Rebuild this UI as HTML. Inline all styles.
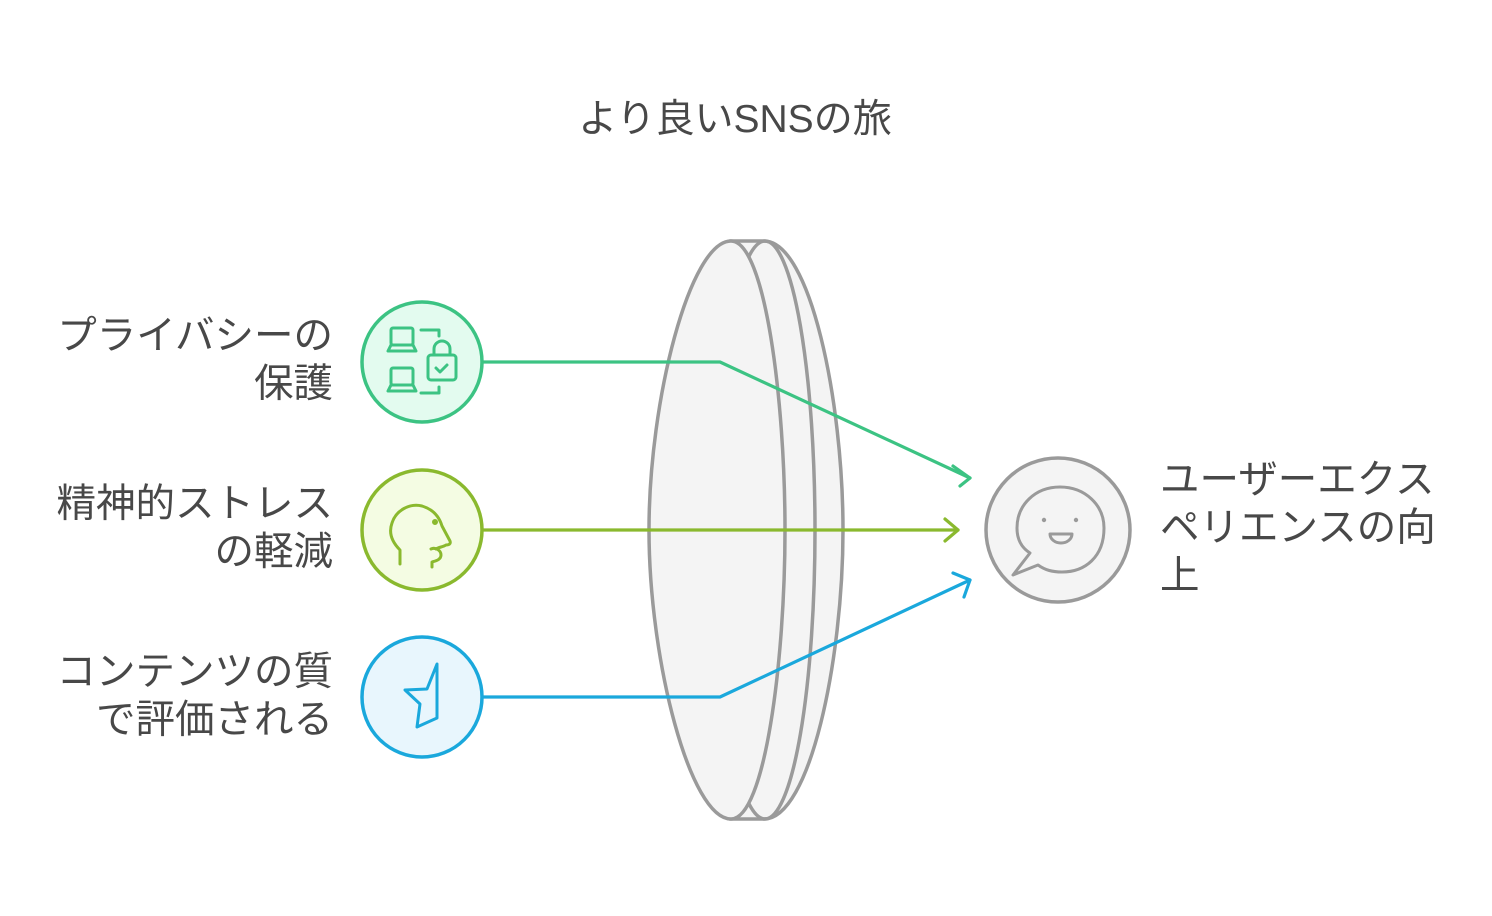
<!DOCTYPE html>
<html><head><meta charset="utf-8"><style>
html,body{margin:0;padding:0;background:#fff;}
body{width:1492px;height:916px;position:relative;overflow:hidden;font-family:"Liberation Sans","Noto Sans CJK JP",sans-serif;color:#484848;}
.t{position:absolute;font-size:39.5px;line-height:48px;white-space:nowrap;}
.l{right:1159px;text-align:right;}
</style></head><body>
<svg width="1492" height="916" style="position:absolute;left:0;top:0">
<g stroke="#9a9a9a" stroke-width="3.5" fill="#f4f4f4">
<path d="M731 241 L764 241 C810 241 843 400 843 530 C843 660 810 819 764 819 L731 819 Z"/>
<ellipse cx="765" cy="530" rx="50" ry="289" fill="none"/>
<path d="M731 241 C690 241 649 400 649 530 C649 660 690 819 731 819 C765 819 785 660 785 530 C785 400 765 241 731 241 Z"/>
</g>
<g fill="none" stroke-width="3.2" stroke-linecap="round" stroke-linejoin="round">
<path d="M483 362 L720 362 L970 478" stroke="#3cc383"/>
<path d="M953 466 L970 478 L960 486" stroke="#3cc383"/>
<path d="M483 530 L958 530" stroke="#8ab92e"/>
<path d="M945 519 L958 530 L945 541" stroke="#8ab92e"/>
<path d="M483 697 L720 697 L970 580" stroke="#1aa8dc"/>
<path d="M953 573 L970 580 L964 597" stroke="#1aa8dc"/>
</g>
<circle cx="422" cy="362" r="60" fill="#e3fbef" stroke="#3cc383" stroke-width="3.5"/>
<circle cx="422" cy="530" r="60" fill="#f4fce3" stroke="#8ab92e" stroke-width="3.5"/>
<circle cx="422" cy="697" r="60" fill="#e8f6fd" stroke="#1aa8dc" stroke-width="3.5"/>
<g fill="none" stroke="#3cc383" stroke-width="3" stroke-linecap="round" stroke-linejoin="round">
<rect x="391" y="328" width="22" height="17" rx="2"/><path d="M388 351 h28 l-3 -6 h-22 z"/>
<rect x="391" y="368" width="22" height="17" rx="2"/><path d="M388 391 h28 l-3 -6 h-22 z"/>
<path d="M421 330 h18 v6 M421 393 h18 v-6"/>
<rect x="428" y="355" width="28" height="25" rx="3"/><path d="M434 355 v-6 a8 8 0 0 1 16 0 v6"/><path d="M436 368 l4 4 l7 -7"/>
</g>
<g fill="none" stroke="#8ab92e" stroke-width="3" stroke-linecap="round" stroke-linejoin="round">
<path d="M400 564 v-14 c-7 -7 -12 -16 -8 -27 c4 -13 18 -20 30 -17 c10 3 17 10 20 20 l8 15 c1 3 -1 4 -4 4 c-3 2 -7 2 -10 4 M431 549 c4 -2 10 1 10 6 c0 5 -6 6 -9 7 v5"/>
<circle cx="435" cy="522" r="1.5" fill="#8ab92e"/>
</g>
<path d="M437 664 L427 689 L405 690 L420 704 L417 727 L437 718 Z" fill="none" stroke="#1aa8dc" stroke-width="3" stroke-linejoin="round"/>
<circle cx="1058" cy="530" r="72" fill="#f4f4f4" stroke="#9a9a9a" stroke-width="3.5"/>
<path d="M1030 553 L1013 575 L1038 565 C1045 570 1052 572 1062 572 C1085 572 1104 557 1104 528 C1104 505 1085 487 1060 487 C1035 487 1017 505 1017 528 C1017 540 1022 548 1030 553 Z" fill="none" stroke="#9a9a9a" stroke-width="3" stroke-linejoin="round"/>
<circle cx="1044" cy="520" r="2.2" fill="#9a9a9a"/><circle cx="1076" cy="520" r="2.2" fill="#9a9a9a"/>
<path d="M1050 534 h22 a11 9 0 0 1 -22 0 z" fill="none" stroke="#9a9a9a" stroke-width="3" stroke-linejoin="round"/>
</svg>
<div class="t" style="left:0;width:1470px;text-align:center;top:96px;font-size:39px;">より良いSNSの旅</div>
<div class="t l" style="top:312px;">プライバシーの<br>保護</div>
<div class="t l" style="top:480px;">精神的ストレス<br>の軽減</div>
<div class="t l" style="top:648px;">コンテンツの質<br>で評価される</div>
<div class="t" style="left:1160px;top:456px;">ユーザーエクス<br>ペリエンスの向<br>上</div>
</body></html>
